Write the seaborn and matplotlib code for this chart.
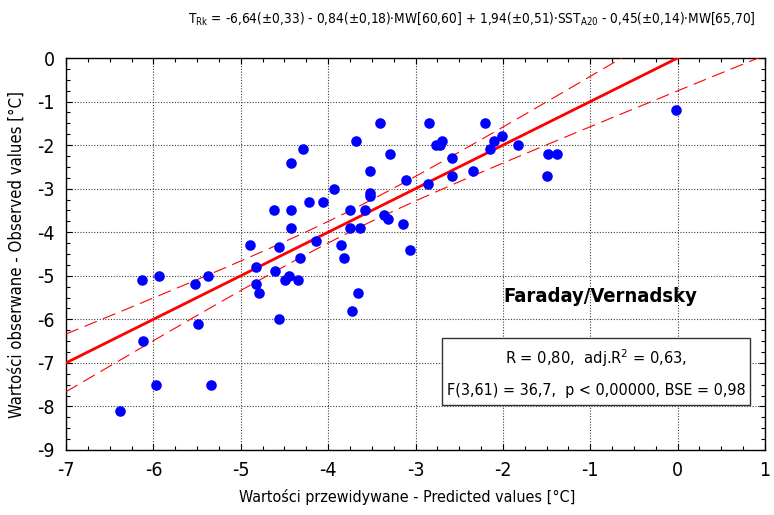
import numpy as np
import pandas as pd
import matplotlib
matplotlib.use("Agg")
import matplotlib.pyplot as plt
from matplotlib.ticker import MultipleLocator
import seaborn as sns

# ---- data ----
predicted = [-4.42, -4.62, -4.43, -4.42, -4.89, -4.56, -3.41, -2.84, -2.20, -4.29,
             -3.68, -3.29, -2.77, -2.70, -2.72, -2.10, -2.01, -2.15, -1.83, -3.52,
             -2.58, -2.58, -2.34, -3.11, -2.86, -3.93, -3.52, -3.52, -4.22, -4.06,
             -3.75, -3.58, -3.36, -3.32, -3.14, -3.75, -3.64, -4.14, -3.85, -3.06,
             -1.48, -1.38, -1.50, -0.02, -4.82, -4.32, -6.13, -5.94, -5.52, -5.37,
             -4.83, -4.79, -4.61, -4.49, -4.45, -4.34, -4.56, -5.49, -6.12, -5.97,
             -5.34, -6.38, -3.82, -3.66, -3.73]
observed = [-2.4, -3.5, -3.5, -3.9, -4.3, -4.35, -1.5, -1.5, -1.5, -2.1,
            -1.9, -2.2, -2.0, -1.9, -2.0, -1.9, -1.8, -2.1, -2.0, -2.6,
            -2.3, -2.7, -2.6, -2.8, -2.9, -3.0, -3.1, -3.17, -3.3, -3.3,
            -3.5, -3.5, -3.6, -3.7, -3.8, -3.9, -3.9, -4.2, -4.3, -4.4,
            -2.2, -2.2, -2.7, -1.2, -4.8, -4.6, -5.1, -5.0, -5.2, -5.0,
            -5.2, -5.4, -4.9, -5.1, -5.0, -5.1, -6.0, -6.1, -6.5, -7.5,
            -7.5, -8.1, -4.6, -5.4, -5.8]
fit_intercept = 0.0
fit_slope = 1.0
bse = 0.98
t_crit = 2.0

x_ticks = [-7, -6, -5, -4, -3, -2, -1, 0, 1]
y_ticks = [0, -1, -2, -3, -4, -5, -6, -7, -8, -9]

title_txt = (r"T$_{\mathregular{Rk}}$ = -6,64(±0,33) - 0,84(±0,18)·MW[60,60] + "
             r"1,94(±0,51)·SST$_{\mathregular{A20}}$ - 0,45(±0,14)·MW[65,70]")
xlabel = "Wartości przewidywane - Predicted values [°C]"
ylabel = "Wartości obserwane - Observed values [°C]"
station = "Faraday/Vernadsky"
stats_line1 = r"R = 0,80,  adj.R$^{\mathregular{2}}$ = 0,63,"
stats_line2 = "F(3,61) = 36,7,  p < 0,00000, BSE = 0,98"

df = pd.DataFrame({"pred": predicted, "obs": observed})

sns.set_style("white")
plt.rcParams["font.family"] = ["DejaVu Sans"]
plt.rcParams["font.stretch"] = "condensed"
plt.rcParams["mathtext.default"] = "regular"
plt.rcParams["text.color"] = "black"
plt.rcParams["axes.labelcolor"] = "black"
plt.rcParams["xtick.color"] = "black"
plt.rcParams["ytick.color"] = "black"

fig = plt.figure(figsize=(7.74, 5.15), dpi=100)
ax = fig.add_axes([66 / 774, 1 - 450 / 515, (765 - 66) / 774, (450 - 58) / 515])

# regression line and confidence band
xs = np.linspace(-7, 1, 200)
xarr = np.asarray(predicted)
n = len(xarr)
xm = xarr.mean()
sxx = ((xarr - xm) ** 2).sum()
yfit = fit_intercept + fit_slope * xs
half = t_crit * bse * np.sqrt(1.0 / n + (xs - xm) ** 2 / sxx)
ax.plot(xs, yfit, color="#ff0000", lw=2.0, zorder=3)
ax.plot(xs, yfit + half, color="#ff0000", lw=0.8, ls=(0, (12, 6)), zorder=3)
ax.plot(xs, yfit - half, color="#ff0000", lw=0.8, ls=(0, (12, 6)), zorder=3)

sns.scatterplot(data=df, x="pred", y="obs", ax=ax, color="#0000ff", s=58,
                edgecolor="#0000ff", linewidth=0, zorder=4, legend=False)

ax.set_xlim(-7, 1)
ax.set_ylim(-9, 0)
ax.set_xticks(x_ticks)
ax.set_yticks(y_ticks)
ax.set_xticklabels([str(v) for v in x_ticks])
ax.set_yticklabels([str(v) for v in y_ticks])
ax.xaxis.set_minor_locator(MultipleLocator(0.25))
ax.yaxis.set_minor_locator(MultipleLocator(0.25))
ax.tick_params(which="both", direction="in", top=True, right=True,
               bottom=True, left=True, color="black", labelcolor="black")
ax.tick_params(which="major", length=4, width=0.8, labelsize=14, pad=8)
ax.tick_params(which="minor", length=3, width=0.8)
ax.grid(True, which="major", color="#404040", ls=(0, (1, 1.5)), lw=0.8)
for sp in ax.spines.values():
    sp.set_color("black")
    sp.set_linewidth(1.0)
ax.set_xlabel(xlabel, fontsize=11.5, color="black")
ax.xaxis.set_label_coords((407 - 66) / 699, -39 / 392)
ax.set_ylabel(ylabel, fontsize=12, labelpad=8, color="black")

fig.text(472 / 774, 1 - 19 / 515, title_txt, fontsize=9.8, ha="center",
         va="center", color="black")

fig.text(600 / 774, 1 - 297 / 515, station, fontsize=14.5, fontweight="bold",
         ha="center", va="center", color="black")
fig.patches.append(plt.Rectangle((442 / 774, 1 - 405 / 515), (750 - 442) / 774,
                                 (405 - 338) / 515, transform=fig.transFigure,
                                 facecolor="white", edgecolor="#333333", lw=1.0,
                                 zorder=5))
fig.text(596 / 774, 1 - 358 / 515, stats_line1, fontsize=11.8, ha="center",
         va="center", zorder=6, color="black")
fig.text(596 / 774, 1 - 391 / 515, stats_line2, fontsize=11.5, ha="center",
         va="center", zorder=6, color="black")

fig.savefig("out.png", dpi=100)
